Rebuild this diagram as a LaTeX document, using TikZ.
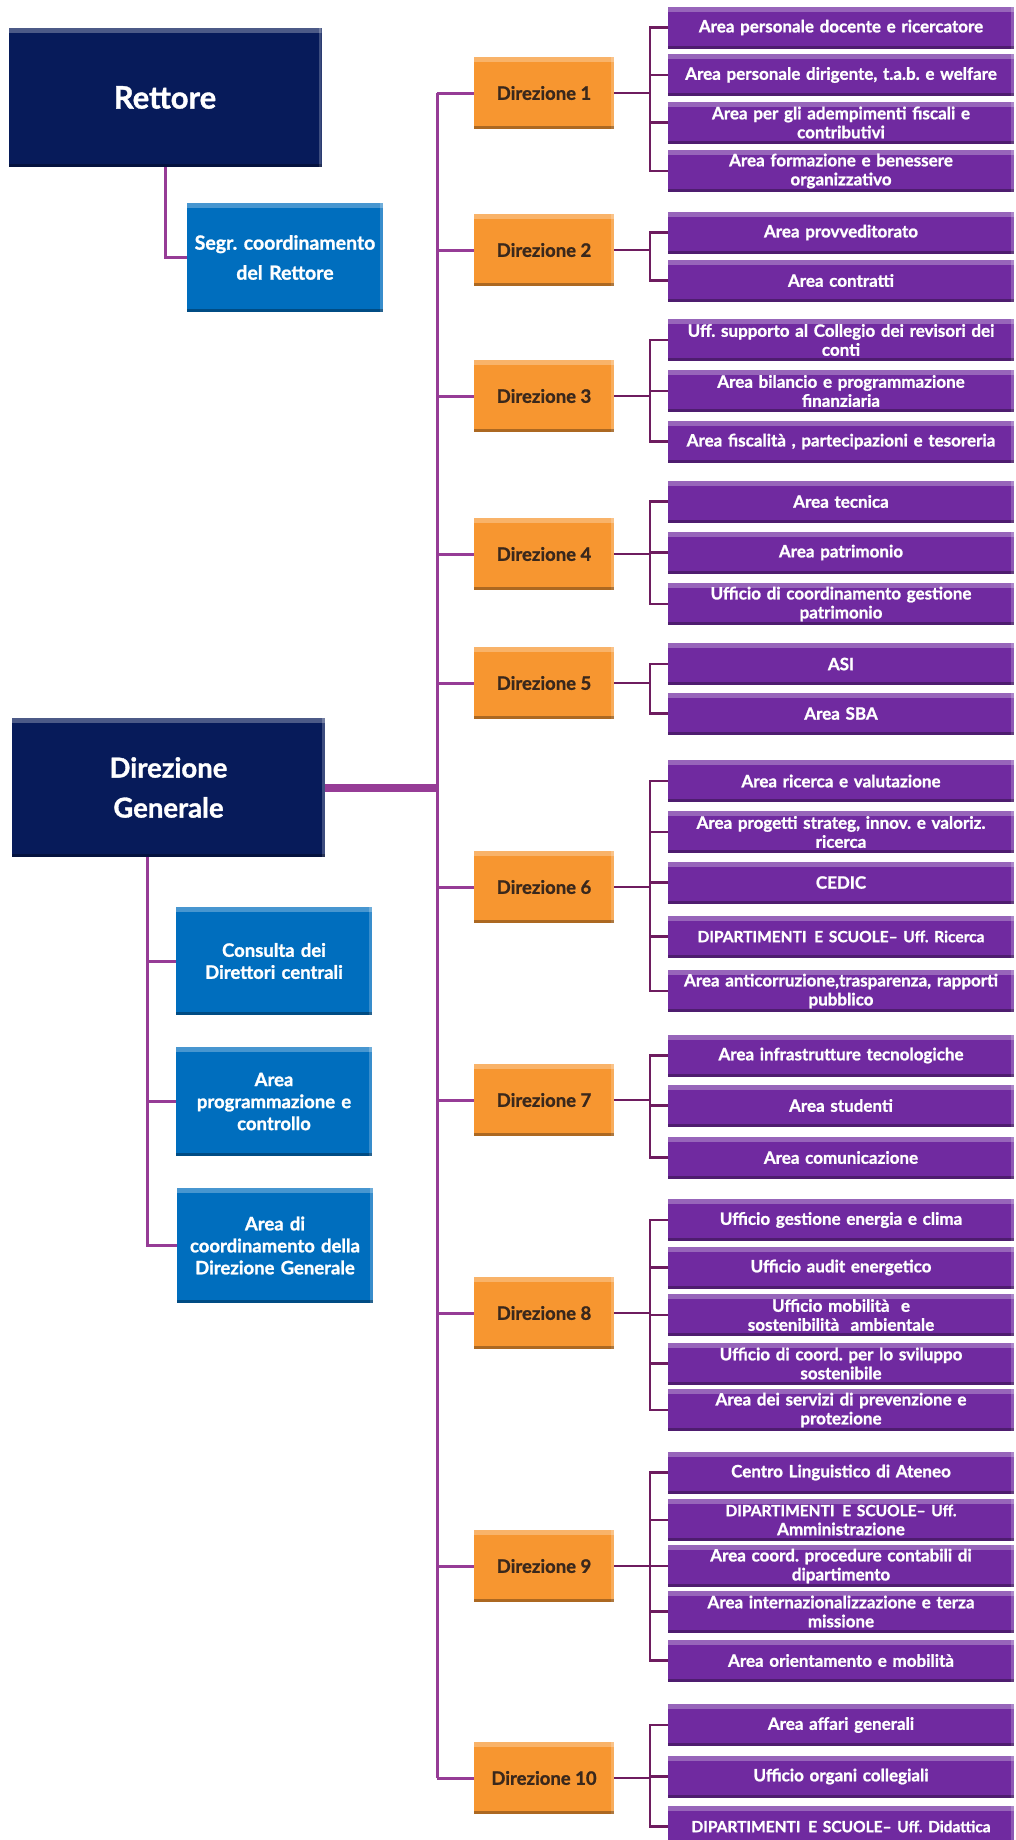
\documentclass[tikz,border=0pt]{standalone}
\usepackage{fontspec}
\setmainfont{Lato}[BoldFeatures={FakeBold=1.2}]
\definecolor{navy}{RGB}{7,27,90}
\definecolor{azure}{RGB}{0,110,190}
\definecolor{amber}{RGB}{247,150,48}
\definecolor{amberT}{RGB}{58,40,28}
\definecolor{purp}{RGB}{112,42,160}
\definecolor{linkA}{RGB}{150,60,150}
\definecolor{linkB}{RGB}{110,28,95}
\frenchspacing
\newcommand{\capsline}[1]{{\fontsize{15.5}{19}\selectfont #1}}
\begin{document}
\begin{tikzpicture}[x=1pt,y=-1pt,
  bevel/.style={path picture={
    \fill[white,opacity=.28] (path picture bounding box.north west) rectangle ([yshift=-5pt]path picture bounding box.north east);
    \fill[white,opacity=.22] ([xshift=-3pt]path picture bounding box.north east) rectangle (path picture bounding box.south east);
    \fill[black,opacity=.3] ([yshift=3pt]path picture bounding box.south west) rectangle (path picture bounding box.south east);}},
  chief/.style={fill=navy,bevel,text=white,align=center,inner sep=0pt,text width=313pt,minimum height=139pt},
  staff/.style={fill=azure,bevel,text=white,align=center,inner sep=0pt,text width=196pt,font=\bfseries\fontsize{18.5}{22}\selectfont},
  dir/.style={fill=amber,bevel,text=amberT,align=center,inner sep=0pt,minimum width=140pt,minimum height=72pt,font=\bfseries\fontsize{18.5}{21}\selectfont},
  unit/.style={fill=purp,bevel,text=white,align=center,inner xsep=4pt,inner ysep=0pt,text width=338pt,minimum height=42pt,font=\bfseries\fontsize{17}{19}\selectfont},
  trunk/.style={draw=linkA,line width=3pt},
  link/.style={draw=linkB,line width=2.5pt}]

\useasboundingbox (0,0) rectangle (1016,1840);
\clip (0,0) rectangle (1016,1840);

% left column
\node[chief,font=\bfseries\fontsize{31}{36}\selectfont] (rett) at (165,97.5) {Rettore};
\node[staff,minimum height=109pt,font=\bfseries\fontsize{19.5}{30}\selectfont] (segr) at (285,257.5) {Segr. coordinamento\\del Rettore};
\node[chief,font=\bfseries\fontsize{27.5}{40}\selectfont] (dg) at (168.5,787.5) {Direzione\\Generale};
\node[staff,minimum height=108pt] (cons) at (274,961) {Consulta dei\\Direttori centrali};
\node[staff,minimum height=109pt] (prog) at (274,1101.5) {Area\\programmazione e\\controllo};
\node[staff,minimum height=115pt] (coord) at (275,1245.5) {Area di\\coordinamento della\\Direzione Generale};

\coordinate (lc) at (147,0);
\coordinate (tk) at (437,0);

\draw[trunk] (rett.south) |- (segr.west);
\draw[trunk] (dg.south -| lc) |- (coord.west);
\foreach \b in {cons,prog}
  \draw[trunk] (\b.west -| lc) -- (\b.west);

% direzioni
\foreach \n/\y in {1/93,2/250,3/396,4/554,5/683,6/887,7/1100,8/1313,9/1566,10/1778}
  \node[dir] (d\n) at (544,\y) {Direzione \n};

\draw[trunk] (d1.west -| tk) -- (d10.west -| tk);
\foreach \n in {1,...,10}
  \draw[trunk] (d\n.west -| tk) -- (d\n.west);
\draw[trunk,line width=8pt] (dg.east) -- (dg.east -| tk);

% aree e uffici
\foreach \p/\k/\y/\t in {
  1/a/27.5/{Area personale docente e ricercatore},
  1/b/75/{Area personale dirigente, t.a.b. e welfare},
  1/c/122.5/{Area per gli adempimenti fiscali e\\contributivi},
  1/d/171/{Area formazione e benessere\\organizzativo},
  2/a/232.5/{Area provveditorato},
  2/b/280.5/{Area contratti},
  3/a/340/{Uff. supporto al Collegio dei revisori dei\\conti},
  3/b/391/{Area bilancio e programmazione\\finanziaria},
  3/c/441.5/{Area fiscalità , partecipazioni e tesoreria},
  4/a/501.5/{Area tecnica},
  4/b/552.5/{Area patrimonio},
  4/c/604/{Ufficio di coordinamento gestione\\patrimonio},
  5/a/664/{ASI},
  5/b/713.5/{Area SBA},
  6/a/781/{Area ricerca e valutazione},
  6/b/832/{Area progetti strateg, innov. e valoriz.\\ricerca},
  6/c/882.5/{CEDIC},
  6/d/936.5/{\capsline{DIPARTIMENTI\enspace E SCUOLE– Uff. Ricerca}},
  6/e/991/{Area anticorruzione,trasparenza, rapporti\\pubblico},
  7/a/1055.5/{Area infrastrutture tecnologiche},
  7/b/1105.5/{Area studenti},
  7/c/1157.5/{Area comunicazione},
  8/a/1220/{Ufficio gestione energia e clima},
  8/b/1267.5/{Ufficio audit energetico},
  8/c/1315/{Ufficio mobilità~~e\\sostenibilità~~ambientale},
  8/d/1363.5/{Ufficio di coord. per lo sviluppo\\sostenibile},
  8/e/1410/{Area dei servizi di prevenzione e\\protezione},
  9/a/1472.5/{Centro Linguistico di Ateneo},
  9/b/1520/{\capsline{DIPARTIMENTI\enspace E SCUOLE– Uff.}\\Amministrazione},
  9/c/1566/{Area coord. procedure contabili di\\dipartimento},
  9/d/1611.5/{Area internazionalizzazione e terza\\missione},
  9/e/1660.5/{Area orientamento e mobilità},
  10/a/1725/{Area affari generali},
  10/b/1776.5/{Ufficio organi collegiali},
  10/c/1826.5/{\capsline{DIPARTIMENTI\enspace E SCUOLE– Uff. Didattica}}}
{\node[unit] (d\p\k) at (841,\y) {\t};
 \draw[link] (d\p.east) -- ++(36,0) |- (d\p\k.west);}

\end{tikzpicture}
\end{document}
